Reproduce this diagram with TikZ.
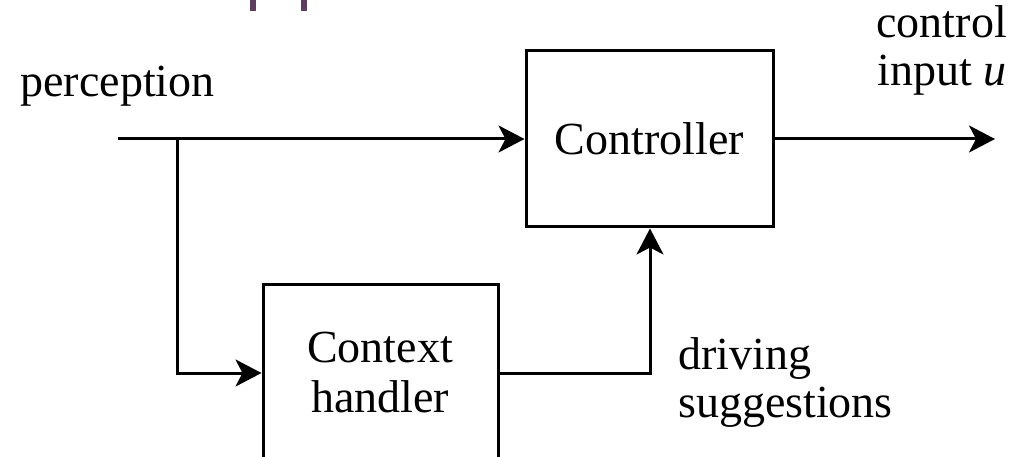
\documentclass[tikz,border=0pt]{standalone}
\usepackage{fontspec}
\setmainfont{Liberation Serif}
\usetikzlibrary{arrows.meta}
\definecolor{markpurple}{RGB}{94,62,94}
\tikzset{
  every node/.style={font=\fontsize{46}{48}\selectfont, inner sep=0pt},
  blockbox/.style={draw=black, line width=3pt, fill=white},
  conn/.style={line width=3pt, -{Stealth[length=26pt,width=27pt,inset=7pt]}},
  plainline/.style={line width=3pt}
}
\begin{document}
\begin{tikzpicture}[x=1pt,y=-1pt]
\clip (0,0) rectangle (1018,457);
\useasboundingbox (0,0) rectangle (1018,457);
% purple marks at top
\fill[markpurple] (250,0) rectangle (255.5,11);
\fill[markpurple] (301,0) rectangle (306.5,11);
% blocks
\node[blockbox, minimum width=247pt, minimum height=176pt] (ctrl) at (649.5,139) {};
\node[anchor=base] (ctrltext) at (649.5,155) {Controller};
\node[blockbox, minimum width=235pt, minimum height=176pt] (ctx) at (380.5,373) {};
\node[anchor=base, align=center, font=\fontsize{46}{50}\selectfont] (ctxtext) at (380,412) {Context\\handler};
% labels
\node[anchor=base] (perc) at (117.5,97) {perception};
\node[anchor=base east, align=right] (outlbl) at (1007,86) {control\\input \textit{u}};
\node[anchor=base west, align=left] (drvlbl) at (678,417) {driving\\suggestions};
% coordinates
\coordinate (in) at (118,139);
\coordinate (branch) at (177,139);
\coordinate (out) at (995,139);
% connectors
\draw[conn] (in) -- (ctrl.west);
\draw[conn] (branch) |- (ctx.west);
\draw[conn] (ctx.east) -| (ctrl.south -| 650,0);
\draw[conn] (ctrl.east) -- (out);
\end{tikzpicture}
\end{document}
